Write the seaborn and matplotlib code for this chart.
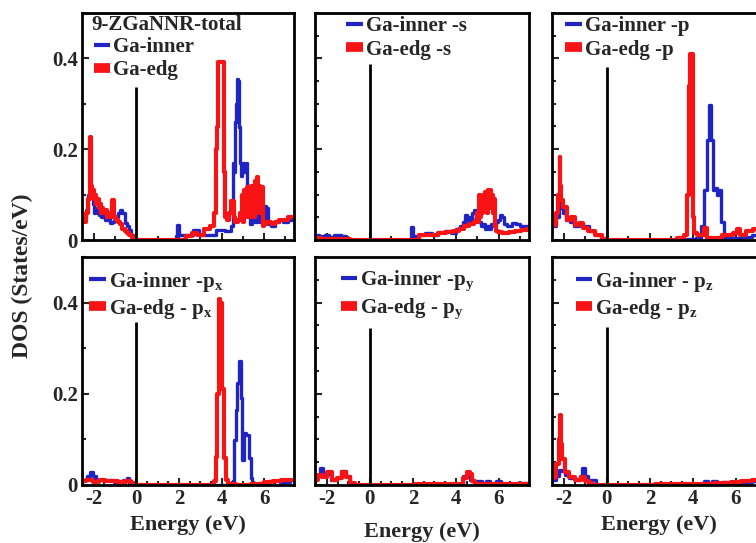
import numpy as np
import matplotlib
matplotlib.use("Agg")
import matplotlib.pyplot as plt
import seaborn as sns
from matplotlib.lines import Line2D
from matplotlib.ticker import MultipleLocator, FuncFormatter

# ---- data (energy in eV, DOS in states/eV) ----
# total
tot_inner_E = [-2.5, -2.4, -2.3, -2.2, -2.1, -2.0, -1.95, -1.9, -1.8, -1.7, -1.6, -1.5, -1.4, -1.3, -1.2, -1.1, -1.0,
               -0.9, -0.8, -0.7, -0.6, -0.5, -0.4, -0.3, -0.2, -0.1, 0.0,
               1.85, 1.9, 1.96, 2.05, 2.4, 2.9, 3.0, 3.5, 3.99, 4.3, 4.4, 4.5, 4.54, 4.6, 4.65, 4.7, 4.75, 4.8, 4.85,
               4.9, 4.95, 5.0, 5.05, 5.1, 5.15, 5.2, 5.25, 5.3, 5.4, 5.5, 5.6, 5.7, 5.8, 5.9, 6.0, 6.05, 6.15, 6.2,
               6.4, 6.6, 6.8, 7.0, 7.2, 7.4]
tot_inner_D = [0.045, 0.05, 0.066, 0.1, 0.11, 0.08, 0.06, 0.07, 0.06, 0.055, 0.05, 0.055, 0.045, 0.05, 0.037, 0.04, 0.045,
               0.05, 0.06, 0.066, 0.06, 0.037, 0.03, 0.022, 0.012, 0.003, 0.0,
               0.0, 0.008, 0.033, 0.01, 0.012, 0.022, 0.01, 0.012, 0.022, 0.02, 0.02, 0.03, 0.169, 0.15, 0.26, 0.3, 0.354, 0.35, 0.25,
               0.17, 0.14, 0.16, 0.17, 0.15, 0.17, 0.1, 0.06, 0.05, 0.035, 0.05, 0.04, 0.055, 0.04, 0.045, 0.035, 0.075, 0.07, 0.035,
               0.03, 0.04, 0.045, 0.04, 0.045, 0.045]
tot_edge_E = [-2.5, -2.4, -2.3, -2.22, -2.17, -2.12, -2.05, -2.0, -1.95, -1.9, -1.85, -1.8, -1.75, -1.7, -1.64, -1.6,
              -1.5, -1.4, -1.33, -1.25, -1.15, -1.1, -1.05, -1.0, -0.9, -0.8, -0.7, -0.6, -0.5, -0.4, -0.3, -0.15, 0.0,
              2.2, 2.5, 2.73, 3.0, 3.36, 3.6, 3.7, 3.78, 3.82, 3.86, 4.08, 4.12, 4.16, 4.2, 4.3, 4.4, 4.45, 4.5, 4.55,
              4.6, 4.7, 4.8, 4.9, 5.0, 5.05, 5.1, 5.15, 5.2, 5.25, 5.3, 5.35, 5.4, 5.45, 5.5, 5.55, 5.6, 5.65, 5.7,
              5.75, 5.8, 5.85, 5.9, 5.95, 6.0, 6.2, 6.4, 6.6, 6.8, 7.0, 7.2, 7.4]
tot_edge_D = [0.05, 0.04, 0.06, 0.09, 0.227, 0.12, 0.1, 0.11, 0.09, 0.1, 0.08, 0.09, 0.07, 0.08, 0.06, 0.07,
              0.06, 0.065, 0.05, 0.06, 0.05, 0.088, 0.088, 0.05, 0.045, 0.04, 0.035, 0.025, 0.02, 0.015, 0.01, 0.004, 0.0,
              0.0, 0.008, 0.015, 0.012, 0.025, 0.03, 0.06, 0.2, 0.25, 0.393, 0.393, 0.15, 0.1, 0.05, 0.045, 0.06, 0.085, 0.08, 0.085,
              0.05, 0.04, 0.045, 0.06, 0.1, 0.04, 0.11, 0.05, 0.117, 0.06, 0.11, 0.05, 0.12, 0.06, 0.117, 0.05, 0.13, 0.06, 0.139,
              0.07, 0.12, 0.06, 0.117, 0.03, 0.035, 0.04, 0.035, 0.04, 0.045, 0.045, 0.05, 0.05]

# s
s_inner_E = [-2.5, -2.2, -2.0, -1.8, -1.5, -1.2, -1.0, -0.9, 1.85, 1.95, 2.05, 2.4, 2.74, 3.0, 3.3, 3.67, 3.9, 4.07,
             4.3, 4.4, 4.46, 4.55, 4.6, 4.7, 4.8, 4.9, 5.0, 5.1, 5.2, 5.3, 5.4, 5.5, 5.6, 5.7, 5.8, 5.9, 6.0, 6.1,
             6.2, 6.3, 6.5, 6.7, 6.9, 7.1, 7.4]
s_inner_D = [0.01, 0.008, 0.012, 0.007, 0.01, 0.008, 0.005, 0.0, 0.0, 0.028, 0.008, 0.01, 0.015, 0.01, 0.018, 0.02, 0.015, 0.025,
             0.03, 0.04, 0.055, 0.035, 0.05, 0.04, 0.06, 0.066, 0.045, 0.04, 0.03, 0.035, 0.025, 0.03, 0.025, 0.035, 0.03, 0.04, 0.045, 0.055,
             0.05, 0.035, 0.03, 0.037, 0.035, 0.03, 0.03]
s_edge_E = [-2.5, -2.0, -1.5, -1.0, -0.8, 2.0, 2.6, 3.0, 3.36, 3.7, 4.0, 4.3, 4.46, 4.77, 4.9, 4.95,
            5.0, 5.05, 5.1, 5.15, 5.2, 5.25, 5.3, 5.35, 5.4, 5.45, 5.5, 5.55, 5.6, 5.65, 5.7, 5.75, 5.8, 5.85,
            5.9, 6.0, 6.3, 6.6, 6.9, 7.2, 7.4]
s_edge_D = [0.004, 0.003, 0.003, 0.002, 0.0, 0.0, 0.01, 0.012, 0.015, 0.018, 0.02, 0.025, 0.03, 0.035, 0.04, 0.045,
            0.06, 0.04, 0.099, 0.05, 0.09, 0.06, 0.1, 0.07, 0.105, 0.06, 0.11, 0.07, 0.11, 0.08, 0.1, 0.06, 0.09, 0.03,
            0.02, 0.018, 0.015, 0.018, 0.02, 0.022, 0.025]

# p
p_inner_E = [-2.5, -2.44, -2.3, -2.18, -2.1, -1.97, -1.8, -1.6, -1.43, -1.2, -1.0, -0.7, -0.4, -0.15, 0.0,
             3.0, 3.5, 4.0, 4.3, 4.47, 4.6, 4.72, 4.82, 4.91, 4.99, 5.07, 5.15, 5.23, 5.38, 5.53, 6.0, 6.5, 7.0, 7.4]
p_inner_D = [0.04, 0.03, 0.05, 0.081, 0.07, 0.06, 0.045, 0.04, 0.03, 0.035, 0.03, 0.02, 0.012, 0.005, 0.0,
             0.0, 0.003, 0.003, 0.004, 0.03, 0.11, 0.22, 0.297, 0.22, 0.11, 0.115, 0.1, 0.11, 0.04, 0.005, 0.005, 0.006, 0.012, 0.015]
p_edge_E = [-2.5, -2.44, -2.29, -2.22, -2.18, -2.14, -2.1, -1.97, -1.74, -1.55, -1.43, -1.19, -1.03, -0.72, -0.4, -0.08, 0.0,
            3.0, 3.5, 3.7, 3.8, 3.84, 3.9, 3.97, 4.0, 4.05, 4.1, 4.3, 4.44, 4.6, 4.72, 5.0, 5.69, 6.0, 6.1, 6.3, 6.64, 6.95, 7.4]
p_edge_D = [0.04, 0.033, 0.059, 0.1, 0.183, 0.12, 0.088, 0.073, 0.044, 0.05, 0.033, 0.037, 0.026, 0.02, 0.01, 0.002, 0.0,
            0.0, 0.005, 0.01, 0.1, 0.34, 0.41, 0.41, 0.15, 0.05, 0.015, 0.012, 0.01, 0.026, 0.005, 0.005, 0.01, 0.015, 0.025, 0.012, 0.02, 0.025, 0.03]

# px
px_inner_E = [-2.5, -2.43, -2.2, -2.11, -1.95, -1.8, -1.5, -1.3, -0.8, -0.45, -0.39, -0.3, -0.2, 0.0,
              4.5, 4.54, 4.62, 4.7, 4.77, 4.85, 4.93, 5.01, 5.09, 5.24, 5.32, 5.4, 5.5, 6.0, 6.5, 7.0, 7.4]
px_inner_D = [0.012, 0.011, 0.02, 0.029, 0.02, 0.01, 0.012, 0.01, 0.006, 0.01, 0.015, 0.005, 0.002, 0.0,
              0.0, 0.008, 0.099, 0.165, 0.224, 0.271, 0.19, 0.055, 0.114, 0.11, 0.06, 0.015, 0.002, 0.004, 0.008, 0.006, 0.01]
px_edge_E = [-2.5, -2.2, -1.9, -1.6, -1.3, -1.0, -0.7, -0.4, -0.1, 0.0,
             3.6, 3.68, 3.76, 3.83, 3.91, 3.99, 4.07, 4.15, 4.23, 4.4, 5.0, 5.8, 6.2, 6.6, 7.0, 7.4]
px_edge_D = [0.008, 0.01, 0.007, 0.01, 0.008, 0.009, 0.007, 0.008, 0.005, 0.0,
             0.0, 0.009, 0.062, 0.2, 0.407, 0.4, 0.21, 0.06, 0.01, 0.002, 0.0, 0.003, 0.006, 0.008, 0.012, 0.012]

# py
py_inner_E = [-2.5, -2.35, -2.27, -2.1, -1.9, -1.7, -1.45, -1.2, -1.05, -0.8, -0.6, 0.0,
              4.2, 4.46, 4.6, 4.75, 4.9, 5.1, 5.3, 5.5, 5.7, 6.0, 6.2, 6.6, 7.0, 7.4]
py_inner_D = [0.015, 0.02, 0.037, 0.02, 0.025, 0.012, 0.015, 0.03, 0.02, 0.005, 0.0, 0.0,
              0.002, 0.02, 0.025, 0.012, 0.004, 0.008, 0.004, 0.008, 0.003, 0.008, 0.003, 0.002, 0.004, 0.004]
py_edge_E = [-2.5, -2.35, -2.11, -1.87, -1.64, -1.41, -1.17, -1.02, -0.78, -0.6, 0.0,
             4.2, 4.46, 4.58, 4.69, 4.8, 5.0, 5.5, 6.0, 6.5, 7.0, 7.4]
py_edge_D = [0.011, 0.022, 0.018, 0.029, 0.012, 0.015, 0.029, 0.018, 0.005, 0.0, 0.0,
             0.002, 0.015, 0.029, 0.025, 0.008, 0.003, 0.002, 0.003, 0.002, 0.003, 0.003]

# pz
pz_inner_E = [-2.5, -2.43, -2.27, -2.16, -2.04, -1.88, -1.6, -1.33, -1.2, -1.13, -0.94, -0.78, -0.55, -0.5, 0.0,
              4.4, 4.6, 4.8, 5.0, 5.2, 5.5, 6.0, 6.5, 7.0, 7.4]
pz_inner_D = [0.01, 0.011, 0.02, 0.033, 0.03, 0.022, 0.015, 0.01, 0.02, 0.037, 0.02, 0.012, 0.012, 0.0, 0.0,
              0.002, 0.008, 0.004, 0.008, 0.003, 0.006, 0.004, 0.006, 0.008, 0.01]
pz_edge_E = [-2.5, -2.43, -2.27, -2.2, -2.16, -2.1, -2.04, -1.88, -1.64, -1.33, -1.1, -0.9, -0.78, -0.6, 0.0,
             4.5, 5.5, 6.0, 6.5, 7.0, 7.4]
pz_edge_D = [0.015, 0.018, 0.047, 0.1, 0.154, 0.09, 0.058, 0.029, 0.018, 0.011, 0.018, 0.008, 0.005, 0.0, 0.0,
             0.002, 0.004, 0.006, 0.008, 0.012, 0.012]

inner_labels = ["Ga-inner", "Ga-inner -s", "Ga-inner -p",
                r"Ga-inner -p$_\mathbf{x}$", r"Ga-inner -p$_\mathbf{y}$", r"Ga-inner - p$_\mathbf{z}$"]
edge_labels = ["Ga-edg", "Ga-edg -s", "Ga-edg -p",
               r"Ga-edg - p$_\mathbf{x}$", r"Ga-edg - p$_\mathbf{y}$", r"Ga-edg - p$_\mathbf{z}$"]
fermi_top = [0.336, 0.388, 0.381, 0.357, 0.344, 0.347]

panels = [
    (tot_inner_E, tot_inner_D, tot_edge_E, tot_edge_D),
    (s_inner_E, s_inner_D, s_edge_E, s_edge_D),
    (p_inner_E, p_inner_D, p_edge_E, p_edge_D),
    (px_inner_E, px_inner_D, px_edge_E, px_edge_D),
    (py_inner_E, py_inner_D, py_edge_E, py_edge_D),
    (pz_inner_E, pz_inner_D, pz_edge_E, pz_edge_D),
]

BLUE = "#2024c4"
RED = "#f81414"

sns.set_theme(style="ticks")
plt.rcParams["font.family"] = ["Liberation Serif", "DejaVu Serif"]
plt.rcParams["font.weight"] = "bold"
plt.rcParams["mathtext.fontset"] = "custom"
plt.rcParams["mathtext.bf"] = "Liberation Serif:bold"
plt.rcParams["mathtext.rm"] = "Liberation Serif:bold"
plt.rcParams["axes.unicode_minus"] = False
plt.rcParams["lines.solid_capstyle"] = "butt"

fig = plt.figure(figsize=(7.56, 5.43), dpi=100)

W, H = 756, 543
lefts = [82, 315, 552]
widths = [212, 214, 214]
tops = [13, 257]
heights = [227, 228]

# legend anchor (axes fraction) for each panel
leg_anchor = [(0.055, 0.895), (0.145, 0.985), (0.06, 0.985),
              (0.035, 0.945), (0.12, 0.95), (0.11, 0.945)]

for i, (ie, idos, ee, edos) in enumerate(panels):
    r, c = divmod(i, 3)
    ax = fig.add_axes([lefts[c] / W, 1 - (tops[r] + heights[r]) / H, widths[c] / W, heights[r] / H])

    sns.lineplot(x=ie, y=idos, ax=ax, color=BLUE, lw=2.4, errorbar=None, drawstyle="steps-mid")
    sns.lineplot(x=ee, y=edos, ax=ax, color=RED, lw=3.0, errorbar=None, drawstyle="steps-mid")
    ax.vlines(0, 0, fermi_top[i], color="black", lw=2, zorder=5)

    ax.set_xlim(-2.55, 7.4)
    ax.set_ylim(0, 0.5)
    ax.xaxis.set_major_locator(MultipleLocator(2))
    ax.xaxis.set_minor_locator(MultipleLocator(1 if r == 0 else 0.5))
    ax.yaxis.set_major_locator(MultipleLocator(0.2))
    ax.yaxis.set_minor_locator(MultipleLocator(0.1 if c == 0 else 0.05))
    ax.xaxis.set_major_formatter(FuncFormatter(lambda v, p: f"{int(round(v))}"))
    ax.yaxis.set_major_formatter(FuncFormatter(lambda v, p: "0" if abs(v) < 1e-9 else f"{v:.1f}"))
    ax.tick_params(which="both", direction="in", width=1.5, labelsize=15, pad=3)
    ax.tick_params(which="major", length=5)
    ax.tick_params(which="minor", length=3)
    ax.tick_params(labelbottom=(r == 1), labelleft=(c == 0))
    for sp in ax.spines.values():
        sp.set_linewidth(2)
        sp.set_color("black")

    if r == 1:
        ax.set_xlabel("Energy (eV)", fontsize=16, fontweight="bold", labelpad=4 if c != 1 else 9)
    else:
        ax.set_xlabel("")
    ax.set_ylabel("")

    if i == 0:
        ax.text(0.045, 0.99, "9-ZGaNNR-total", transform=ax.transAxes,
                ha="left", va="top", fontsize=15, fontweight="bold")

    handles = [Line2D([], [], color=BLUE, lw=3, solid_capstyle="butt"),
               Line2D([], [], color=RED, lw=7, solid_capstyle="butt")]
    ax.legend(handles, [inner_labels[i], edge_labels[i]], loc="upper left",
              bbox_to_anchor=leg_anchor[i], frameon=False, fontsize=15,
              handlelength=0.8, handletextpad=0.15, labelspacing=0.15,
              borderpad=0, borderaxespad=0)

fig.text(0.03, 1 - 276 / H, "DOS (States/eV)", rotation=90, ha="center", va="center",
         fontsize=17, fontweight="bold")

fig.savefig("out.png", dpi=100)
